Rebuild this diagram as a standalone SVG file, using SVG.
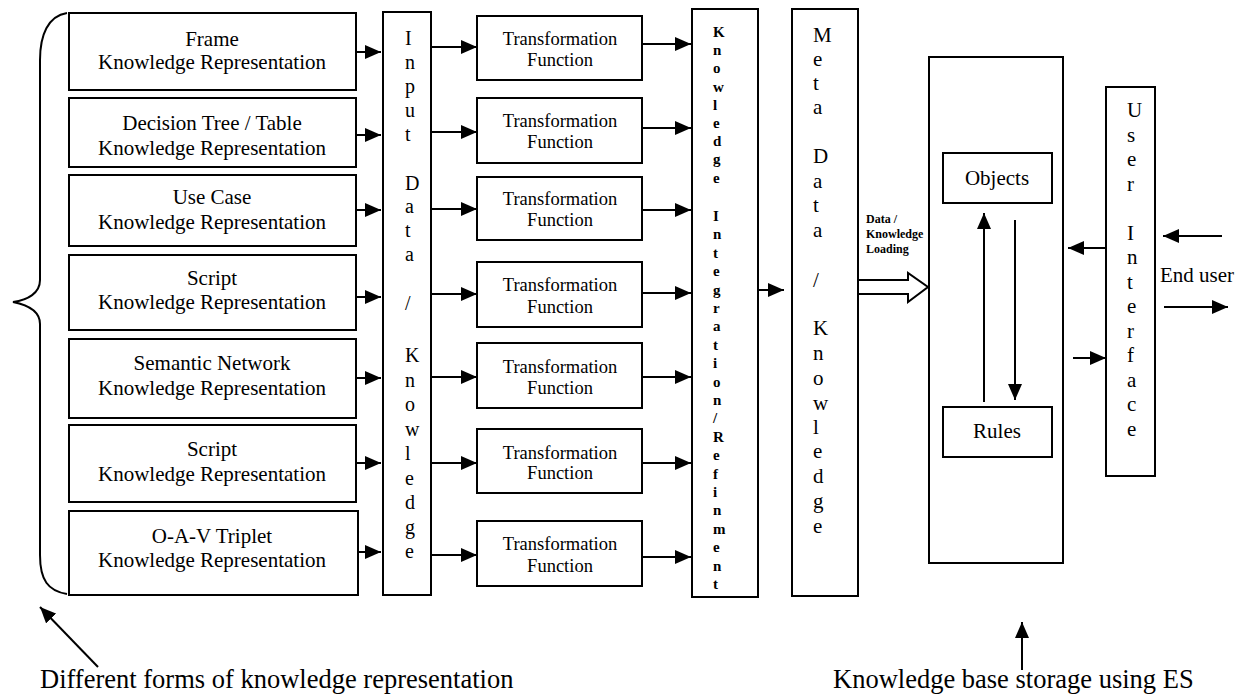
<svg xmlns="http://www.w3.org/2000/svg" width="1250" height="696" viewBox="0 0 1250 696">
<style>
.box{fill:#fff;stroke:#000;stroke-width:2}
.ln{stroke:#000;stroke-width:2;fill:none}
.t{font-family:"Liberation Serif","Times New Roman",serif;fill:#000}
.kr{font-size:21px;text-anchor:middle}
.tf{font-size:18.5px;text-anchor:middle}
.col{font-size:20px}
.colb{font-size:15px;font-weight:bold}
.big{font-size:26.5px}
.sm{font-size:12px;font-weight:bold}
</style>
<defs>
<marker id="ah" markerUnits="userSpaceOnUse" markerWidth="16" markerHeight="14" refX="16" refY="7" orient="auto">
<path d="M0,0 L16,7 L0,14 Z" fill="#000"/>
</marker>
</defs>
<rect width="1250" height="696" fill="#fff"/>

<g id="brace"><path class="ln" d="M67,13 C48,16 40,35 40,60 L40,280 C40,293 28,300 13,302 C28,305 40,311 40,324 L40,555 C40,580 48,591 67,594"/></g>

<g id="kr1"><rect class="box" x="69" y="13" width="287" height="77"/><text class="t kr" x="212" y="46">Frame</text><text class="t kr" x="212" y="69">Knowledge Representation</text></g>
<g id="kr2"><rect class="box" x="69" y="98" width="287" height="69"/><text class="t kr" x="212" y="130">Decision Tree / Table</text><text class="t kr" x="212" y="155">Knowledge Representation</text></g>
<g id="kr3"><rect class="box" x="69" y="175" width="287" height="71"/><text class="t kr" x="212" y="204">Use Case</text><text class="t kr" x="212" y="229">Knowledge Representation</text></g>
<g id="kr4"><rect class="box" x="69" y="255" width="287" height="75"/><text class="t kr" x="212" y="285">Script</text><text class="t kr" x="212" y="309">Knowledge Representation</text></g>
<g id="kr5"><rect class="box" x="69" y="339" width="287" height="79"/><text class="t kr" x="212" y="370">Semantic Network</text><text class="t kr" x="212" y="395">Knowledge Representation</text></g>
<g id="kr6"><rect class="box" x="69" y="425" width="287" height="77"/><text class="t kr" x="212" y="456">Script</text><text class="t kr" x="212" y="481">Knowledge Representation</text></g>
<g id="kr7"><rect class="box" x="69" y="511" width="289" height="84"/><text class="t kr" x="212" y="543">O-A-V Triplet</text><text class="t kr" x="212" y="567">Knowledge Representation</text></g>

<g id="input"><rect class="box" x="383" y="12" width="48" height="583"/>
<text class="t col"><tspan x="405" y="45">I</tspan><tspan x="405" y="69">n</tspan><tspan x="405" y="93">p</tspan><tspan x="405" y="117">u</tspan><tspan x="405" y="141">t</tspan><tspan x="405" y="190">D</tspan><tspan x="405" y="213">a</tspan><tspan x="405" y="237">t</tspan><tspan x="405" y="261">a</tspan><tspan x="405" y="310">/</tspan><tspan x="405" y="362">K</tspan><tspan x="405" y="386.5">n</tspan><tspan x="405" y="411">o</tspan><tspan x="405" y="435.5">w</tspan><tspan x="405" y="460">l</tspan><tspan x="405" y="484.5">e</tspan><tspan x="405" y="509">d</tspan><tspan x="405" y="533.5">g</tspan><tspan x="405" y="558">e</tspan></text></g>

<g id="tf1"><rect class="box" x="477" y="16" width="165" height="64"/><text class="t tf" x="560" y="45">Transformation</text><text class="t tf" x="560" y="66">Function</text></g>
<g id="tf2"><rect class="box" x="477" y="98" width="165" height="65"/><text class="t tf" x="560" y="127">Transformation</text><text class="t tf" x="560" y="148">Function</text></g>
<g id="tf3"><rect class="box" x="477" y="177" width="165" height="63"/><text class="t tf" x="560" y="205">Transformation</text><text class="t tf" x="560" y="226">Function</text></g>
<g id="tf4"><rect class="box" x="477" y="262" width="165" height="65"/><text class="t tf" x="560" y="291">Transformation</text><text class="t tf" x="560" y="313">Function</text></g>
<g id="tf5"><rect class="box" x="477" y="343" width="165" height="65"/><text class="t tf" x="560" y="373">Transformation</text><text class="t tf" x="560" y="394">Function</text></g>
<g id="tf6"><rect class="box" x="477" y="429" width="165" height="64"/><text class="t tf" x="560" y="459">Transformation</text><text class="t tf" x="560" y="479">Function</text></g>
<g id="tf7"><rect class="box" x="477" y="521" width="165" height="65"/><text class="t tf" x="560" y="550">Transformation</text><text class="t tf" x="560" y="572">Function</text></g>

<g id="integration"><rect class="box" x="692" y="9" width="66" height="588"/>
<text class="t colb"><tspan x="713" y="37">K</tspan><tspan x="713" y="55.2">n</tspan><tspan x="713" y="73.4">o</tspan><tspan x="713" y="91.6">w</tspan><tspan x="713" y="109.8">l</tspan><tspan x="713" y="128">e</tspan><tspan x="713" y="146.2">d</tspan><tspan x="713" y="164.4">g</tspan><tspan x="713" y="182.6">e</tspan><tspan x="713" y="221">I</tspan><tspan x="713" y="239.4">n</tspan><tspan x="713" y="257.8">t</tspan><tspan x="713" y="276.2">e</tspan><tspan x="713" y="294.6">g</tspan><tspan x="713" y="313">r</tspan><tspan x="713" y="331.4">a</tspan><tspan x="713" y="349.8">t</tspan><tspan x="713" y="368.2">i</tspan><tspan x="713" y="386.6">o</tspan><tspan x="713" y="405">n</tspan><tspan x="713" y="423.4">/</tspan><tspan x="713" y="441.8">R</tspan><tspan x="713" y="460.2">e</tspan><tspan x="713" y="478.6">f</tspan><tspan x="713" y="497">i</tspan><tspan x="713" y="515.4">n</tspan><tspan x="713" y="533.8">m</tspan><tspan x="713" y="552.2">e</tspan><tspan x="713" y="570.6">n</tspan><tspan x="713" y="589">t</tspan></text></g>

<g id="meta"><rect class="box" x="792" y="9" width="66" height="587"/>
<text class="t col" style="font-size:21px"><tspan x="813" y="42">M</tspan><tspan x="813" y="66">e</tspan><tspan x="813" y="90">t</tspan><tspan x="813" y="114">a</tspan><tspan x="813" y="163">D</tspan><tspan x="813" y="188">a</tspan><tspan x="813" y="212">t</tspan><tspan x="813" y="237">a</tspan><tspan x="813" y="287">/</tspan><tspan x="813" y="335">K</tspan><tspan x="813" y="360">n</tspan><tspan x="813" y="385">o</tspan><tspan x="813" y="410">w</tspan><tspan x="813" y="434">l</tspan><tspan x="813" y="458">e</tspan><tspan x="813" y="483">d</tspan><tspan x="813" y="508">g</tspan><tspan x="813" y="533">e</tspan></text></g>

<g id="kb"><rect class="box" x="929" y="57" width="134" height="506"/></g>
<g id="objects"><rect class="box" x="943" y="153" width="109" height="50"/><text class="t kr" x="997" y="185">Objects</text></g>
<g id="rules"><rect class="box" x="943" y="407" width="109" height="50"/><text class="t kr" x="997" y="438">Rules</text></g>

<g id="ui"><rect class="box" x="1106" y="87" width="49" height="389"/>
<text class="t col" style="font-size:21px"><tspan x="1127" y="117">U</tspan><tspan x="1127" y="141.5">s</tspan><tspan x="1127" y="166">e</tspan><tspan x="1127" y="190.5">r</tspan><tspan x="1127" y="239.5">I</tspan><tspan x="1127" y="264">n</tspan><tspan x="1127" y="288.5">t</tspan><tspan x="1127" y="313">e</tspan><tspan x="1127" y="337.5">r</tspan><tspan x="1127" y="362">f</tspan><tspan x="1127" y="386.5">a</tspan><tspan x="1127" y="411">c</tspan><tspan x="1127" y="435.5">e</tspan></text></g>

<g id="connectors">
<line class="ln" x1="357" y1="52" x2="381" y2="52" marker-end="url(#ah)"/>
<line class="ln" x1="357" y1="135" x2="381" y2="135" marker-end="url(#ah)"/>
<line class="ln" x1="357" y1="210" x2="381" y2="210" marker-end="url(#ah)"/>
<line class="ln" x1="357" y1="297" x2="381" y2="297" marker-end="url(#ah)"/>
<line class="ln" x1="357" y1="378" x2="381" y2="378" marker-end="url(#ah)"/>
<line class="ln" x1="357" y1="463" x2="381" y2="463" marker-end="url(#ah)"/>
<line class="ln" x1="359" y1="552" x2="381" y2="552" marker-end="url(#ah)"/>

<line class="ln" x1="431" y1="47" x2="477" y2="47" marker-end="url(#ah)"/>
<line class="ln" x1="431" y1="132" x2="477" y2="132" marker-end="url(#ah)"/>
<line class="ln" x1="431" y1="209" x2="477" y2="209" marker-end="url(#ah)"/>
<line class="ln" x1="431" y1="294" x2="477" y2="294" marker-end="url(#ah)"/>
<line class="ln" x1="431" y1="377" x2="477" y2="377" marker-end="url(#ah)"/>
<line class="ln" x1="431" y1="463" x2="477" y2="463" marker-end="url(#ah)"/>
<line class="ln" x1="431" y1="555" x2="477" y2="555" marker-end="url(#ah)"/>

<line class="ln" x1="642" y1="44" x2="691" y2="44" marker-end="url(#ah)"/>
<line class="ln" x1="642" y1="128" x2="691" y2="128" marker-end="url(#ah)"/>
<line class="ln" x1="642" y1="210" x2="691" y2="210" marker-end="url(#ah)"/>
<line class="ln" x1="642" y1="293" x2="691" y2="293" marker-end="url(#ah)"/>
<line class="ln" x1="642" y1="377" x2="691" y2="377" marker-end="url(#ah)"/>
<line class="ln" x1="642" y1="463" x2="691" y2="463" marker-end="url(#ah)"/>
<line class="ln" x1="642" y1="557" x2="691" y2="557" marker-end="url(#ah)"/>

<line class="ln" x1="758" y1="290" x2="784" y2="290" marker-end="url(#ah)"/>

<polygon points="858,280 908,280 908,273 928,287 908,302 908,294 858,294" fill="#fff" stroke="#000" stroke-width="2"/>

<line class="ln" x1="984" y1="402" x2="984" y2="213" marker-end="url(#ah)"/>
<line class="ln" x1="1015" y1="220" x2="1015" y2="400" marker-end="url(#ah)"/>
<line class="ln" x1="1105" y1="248" x2="1068" y2="248" marker-end="url(#ah)"/>
<line class="ln" x1="1073" y1="358" x2="1106" y2="358" marker-end="url(#ah)"/>
<line class="ln" x1="1222" y1="236" x2="1163" y2="236" marker-end="url(#ah)"/>
<line class="ln" x1="1164" y1="307" x2="1228" y2="307" marker-end="url(#ah)"/>

<line class="ln" x1="98" y1="667" x2="40" y2="607" marker-end="url(#ah)"/>
<line class="ln" x1="1022" y1="670" x2="1022" y2="622" marker-end="url(#ah)"/>
</g>

<g id="labels">
<text class="t sm"><tspan x="866" y="223">Data /</tspan><tspan x="866" y="238">Knowledge</tspan><tspan x="866" y="253">Loading</tspan></text>
<text class="t" style="font-size:21px" x="1160" y="282">End user</text>
<text class="t big" x="40" y="688">Different forms of knowledge representation</text>
<text class="t big" x="833" y="688">Knowledge base storage using ES</text>
</g>
</svg>
